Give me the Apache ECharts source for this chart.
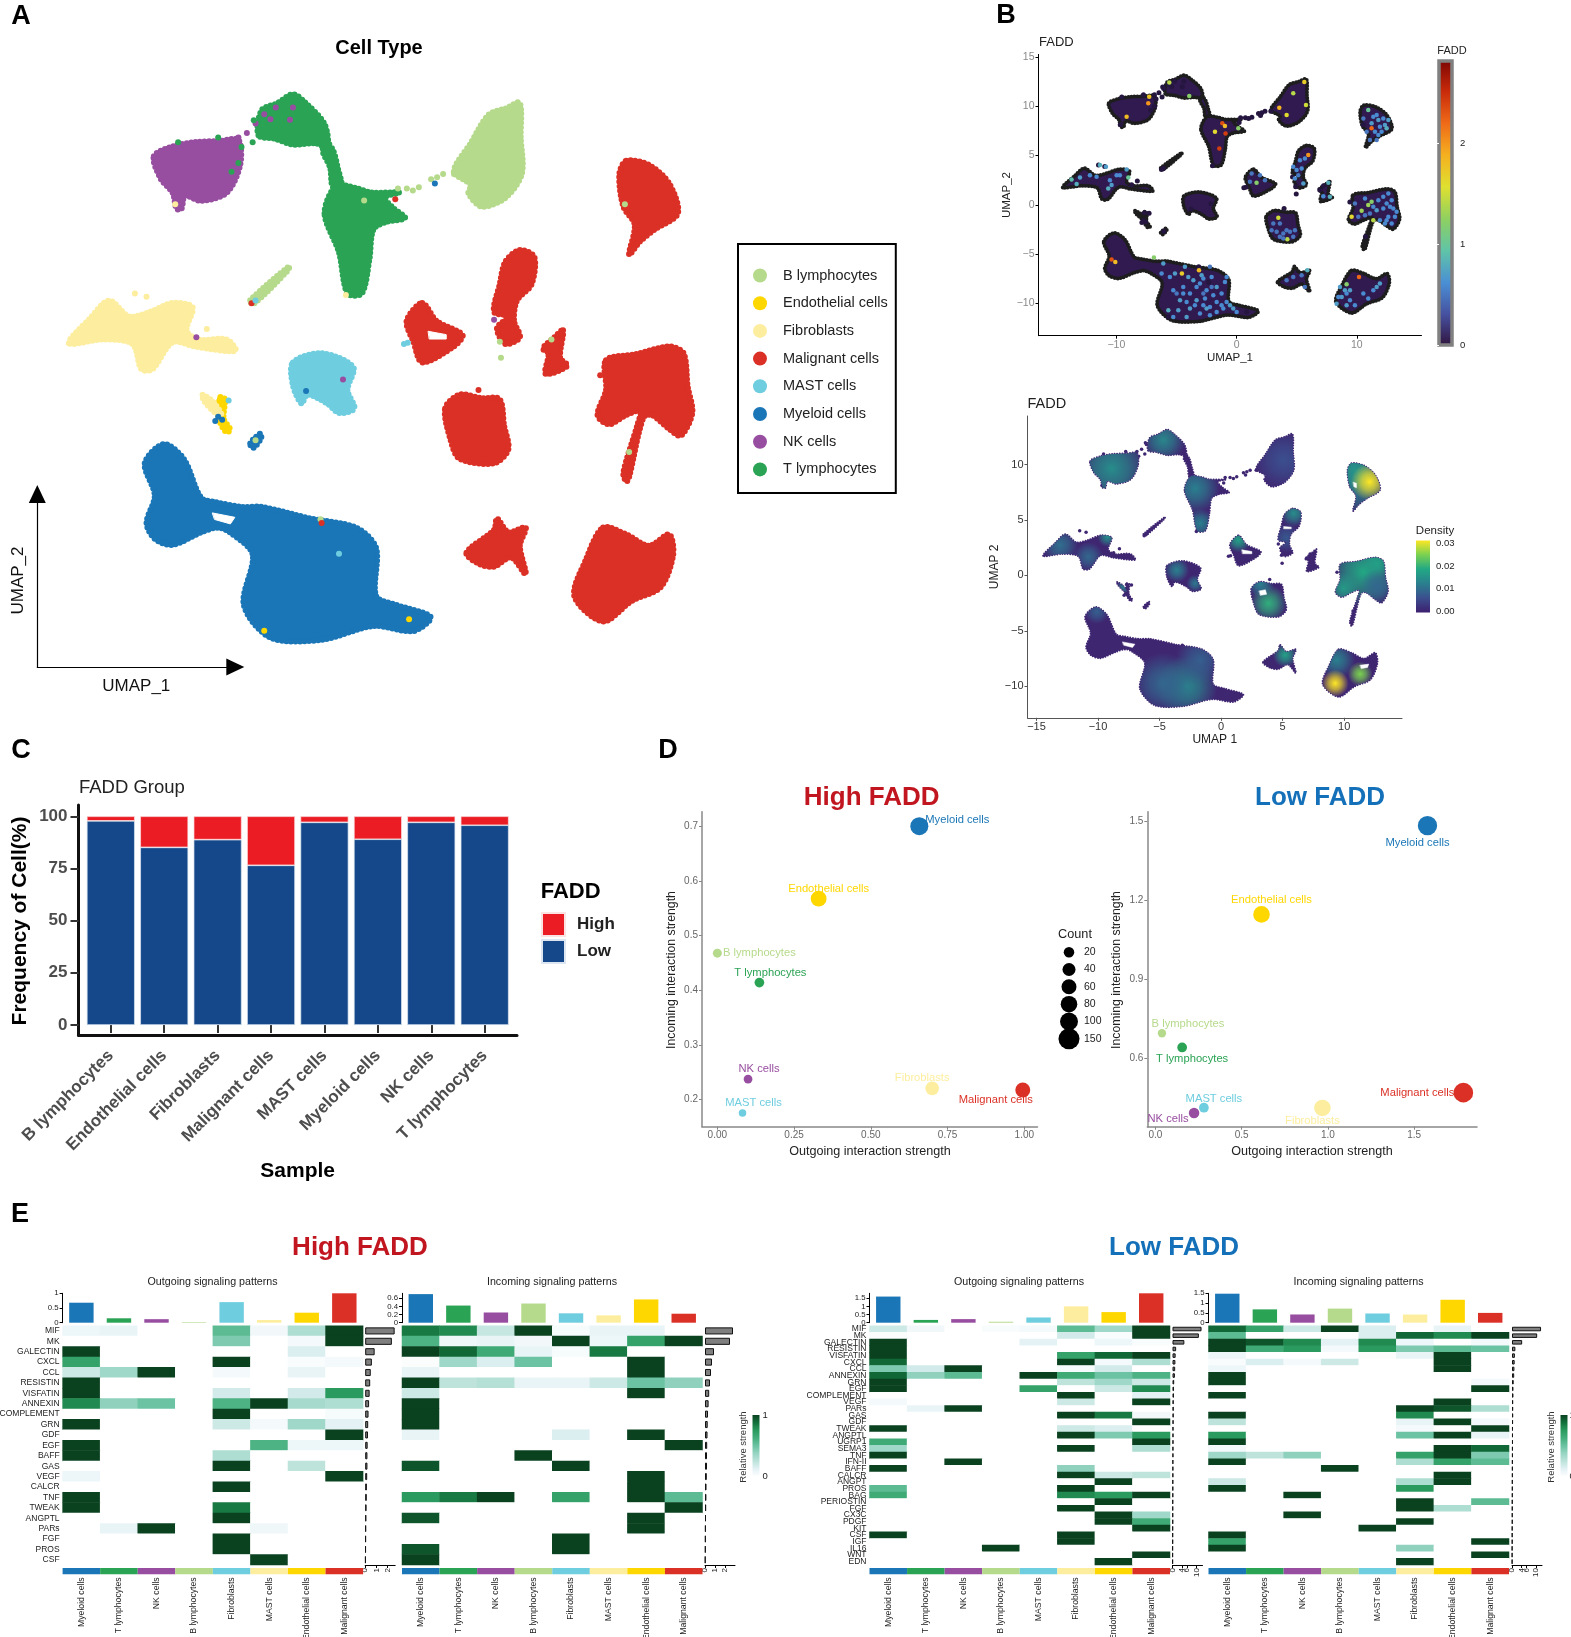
<!DOCTYPE html>
<html>
<head>
<meta charset="utf-8">
<title>FADD single cell figure</title>
<script src="https://cdn.jsdelivr.net/npm/echarts@6/dist/echarts.min.js"></script>
<style>html,body{margin:0;padding:0;background:#fff}#main{width:1571px;height:1637px}</style>
</head>
<body>
<div id="main"></div>
<script>
// cell type colours
var cellColors = {
	'B lymphocytes': '#b6da8b', 'Endothelial cells': '#ffd700', 'Fibroblasts': '#fdee9f', 'Malignant cells': '#db3026',
	'MAST cells': '#6ecddf', 'Myeloid cells': '#1a76b6', 'NK cells': '#984ea0', 'T lymphocytes': '#2ba355'
};
var legendCells = ['B lymphocytes', 'Endothelial cells', 'Fibroblasts', 'Malignant cells', 'MAST cells', 'Myeloid cells', 'NK cells', 'T lymphocytes'];

// UMAP outlines, in UMAP units
var nkBlob = [[-10.64,10.3],[-9.8,10.75],[-8.78,10.95],[-7.67,11.0],[-6.84,11.05],[-6.76,9.9],[-7.36,8.64],[-8.52,8.26],[-9.24,8.5],[-9.4,7.9],[-9.62,7.9],[-9.8,8.64],[-10.33,9.27]];
var tArchBlob = [[-5.94,11.26],[-5.8,12.4],[-5.09,12.73],[-4.39,13.14],[-3.88,12.8],[-2.97,11.78],[-2.84,10.73],[-3.4,10.9],[-4.39,10.84],[-5.2,11.1]];
var tBridgeBlob = [[-2.9,10.99],[-2.57,10.54],[-2.38,9.79],[-2.2,8.9],[-2.6,8.9],[-2.72,9.79],[-3.05,10.54]];
var tMainBlob = [[-2.97,7.69],[-2.45,8.95],[-1.55,8.85],[-0.89,8.65],[0.39,8.64],[-0.26,8.43],[0.1,7.95],[0.65,7.48],[-0.2,7.3],[-0.77,6.96],[-0.95,5.6],[-1.29,4.03],[-1.94,4.03],[-2.32,5.91]];
var bMainBlob = [[2.84,9.6],[3.6,10.9],[4.4,12.2],[5.2,12.5],[5.8,12.75],[5.85,11.15],[5.9,9.5],[5.16,8.4],[4.1,8.0],[3.5,8.6],[3.6,9.0]];
var bLineBlob = [[-6.31,3.72],[-4.55,5.28],[-4.63,5.07],[-6.17,3.54]];
var mal1Blob = [[10.59,10.1],[11.62,9.9],[12.52,9.06],[12.91,7.69],[11.88,6.96],[11.2,6.4],[10.72,5.81],[10.97,7.17],[10.46,8.0],[10.28,9.48]];
var mal2Blob = [[5.81,6.02],[6.46,5.7],[6.33,4.44],[5.68,3.71],[5.55,2.77],[5.81,2.03],[5.16,1.72],[4.78,2.45],[5.29,2.98],[4.65,3.19],[4.9,4.44],[5.16,5.49]];
var mal3Blob = [[1.42,3.6],[2.07,2.77],[3.23,2.14],[2.84,1.61],[1.42,0.88],[1.03,1.82],[0.72,2.77]];
var mal4Blob = [[7.75,2.35],[7.62,1.09],[7.95,0.73],[6.97,0.36],[7.1,1.3],[6.84,1.51],[7.36,2.03]];
var mal5Blob = [[9.68,0.98],[11.0,1.25],[12.52,1.61],[13.17,1.3],[13.35,-0.2],[13.56,-1.43],[13.04,-2.47],[12.52,-2.16],[11.75,-1.53],[11.36,-1.64],[10.72,-4.36],[10.59,-4.57],[10.46,-4.15],[11.1,-1.95],[11.23,-1.32],[10.59,-1.53],[9.81,-1.95],[9.3,-1.53],[9.68,-0.38]];
var mal6Blob = [[2.45,-1.22],[3.1,-0.59],[4.1,-0.75],[4.9,-0.8],[5.1,-2.0],[5.29,-3.1],[4.65,-3.73],[3.1,-3.52],[2.7,-2.68]];
var mal7Blob = [[3.41,-7.82],[4.65,-6.77],[4.78,-6.25],[5.29,-6.88],[6.07,-6.67],[5.81,-7.5],[6.07,-8.8],[5.42,-8.03],[4.65,-8.45],[4.0,-8.34]];
var mal8Blob = [[9.55,-6.67],[10.59,-6.98],[11.62,-7.5],[12.52,-6.98],[12.7,-7.92],[12.14,-9.39],[10.84,-10.02],[9.55,-10.96],[8.26,-9.81],[8.78,-8.13]];
var fibroBlob = [[-14.46,1.76],[-13.5,2.9],[-12.65,3.71],[-11.75,2.98],[-10.8,3.2],[-9.8,3.6],[-8.9,3.4],[-9.17,2.35],[-8.65,1.93],[-7.36,1.93],[-6.97,1.4],[-8.78,1.6],[-9.8,1.8],[-10.7,0.57],[-11.2,0.57],[-11.6,1.72],[-12.9,1.93]];
var mastBlob = [[-4.39,0.88],[-3.1,1.3],[-1.68,0.67],[-1.94,-0.38],[-1.63,-1.22],[-2.32,-1.43],[-2.84,-1.0],[-3.74,-0.59],[-4.0,-1.0],[-4.39,-0.17]];
var smallFibroBlob = [[-8.45,-0.6],[-8.0,-0.9],[-7.6,-1.5],[-7.9,-1.4],[-8.4,-0.85]];
var smallEndoBlob = [[-7.65,-0.7],[-7.45,-0.8],[-7.5,-1.7],[-7.2,-2.2],[-7.4,-2.3],[-7.75,-1.6]];
var smallMyeloidBlob = [[-6.31,-2.82],[-5.85,-2.37],[-5.82,-2.58],[-6.17,-3.03]];
var myeloidBlob = [[-11.05,-3.73],[-10.2,-2.85],[-9.3,-3.52],[-8.52,-5.3],[-7.87,-5.5],[-6.7,-5.72],[-5.8,-5.72],[-3.6,-6.25],[-1.55,-6.67],[-0.65,-7.6],[-0.65,-9.8],[0.26,-10.2],[1.8,-10.75],[1.03,-11.4],[-0.77,-11.17],[-3.1,-11.8],[-5.4,-11.7],[-6.6,-10.2],[-6.2,-7.9],[-7.2,-6.9],[-7.75,-6.67],[-8.5,-6.88],[-9.8,-7.46],[-10.59,-7.19],[-10.97,-6.46],[-10.6,-5.2]];
var holeBlobs = [
	[[-8.0,-6.0],[-7.0,-6.2],[-7.2,-6.5],[-7.9,-6.3]],
	[[1.7,2.3],[2.5,2.15],[2.5,1.95],[1.75,1.95]],
	[[3.1,-1.4],[3.6,-1.3],[3.7,-1.7],[3.2,-1.8]],
	[[5.1,4.4],[5.7,4.35],[5.7,4.2],[5.1,4.2]],
	[[11.3,-8.1],[12,-8.0],[11.9,-8.3],[11.4,-8.4]],
	[[10.75,8.4],[11.0,8.3],[11.0,7.9],[10.8,8.0]]
];
var umapBlobs = [
	{ cell: 'Myeloid cells', pts: myeloidBlob }, { cell: 'Myeloid cells', pts: smallMyeloidBlob },
	{ cell: 'NK cells', pts: nkBlob },
	{ cell: 'T lymphocytes', pts: tArchBlob }, { cell: 'T lymphocytes', pts: tBridgeBlob }, { cell: 'T lymphocytes', pts: tMainBlob },
	{ cell: 'B lymphocytes', pts: bMainBlob }, { cell: 'B lymphocytes', pts: bLineBlob },
	{ cell: 'Malignant cells', pts: mal1Blob }, { cell: 'Malignant cells', pts: mal2Blob }, { cell: 'Malignant cells', pts: mal3Blob },
	{ cell: 'Malignant cells', pts: mal4Blob }, { cell: 'Malignant cells', pts: mal5Blob }, { cell: 'Malignant cells', pts: mal6Blob },
	{ cell: 'Malignant cells', pts: mal7Blob }, { cell: 'Malignant cells', pts: mal8Blob },
	{ cell: 'Fibroblasts', pts: fibroBlob }, { cell: 'Fibroblasts', pts: smallFibroBlob },
	{ cell: 'Endothelial cells', pts: smallEndoBlob },
	{ cell: 'MAST cells', pts: mastBlob }
];
// single cells away from the main clouds
var strayDots = {
	'NK cells': [[-6.84,11.16],[-6.46,11.37],[-6.07,11.8],[-5.68,12.22],[-5.16,12.53],[-4.39,12.53],[-4.52,11.97],[-5.4,12.0],[-8.73,2.03],[-2.14,0.1],[4.65,2.83]],
	'T lymphocytes': [[-7.75,11.16],[-9.55,10.94],[-6.15,11.95],[-6.2,10.94],[-6.7,10.73],[-6.84,10.0],[-7.15,9.6]],
	'B lymphocytes': [[0.33,8.83],[0.73,8.83],[1.0,8.74],[1.27,8.89],[1.82,9.25],[2.09,9.34],[2.36,9.49],[2.85,9.49],[-1.19,8.28],[4.91,1.82],[4.96,1.09],[10.72,-3.21],[-3.15,-6.29],[10.53,8.11],[7.23,1.93],[-6.07,-2.68]],
	'Myeloid cells': [[-3.8,-0.42],[-7.75,-1.6],[-7.57,-1.74],[-7.88,-1.8],[1.99,9.06]],
	'Endothelial cells': [[-5.68,-11.38],[-7.67,-0.8],[0.83,-10.86]],
	'Malignant cells': [[0.21,8.34],[-6.25,3.58],[-3.1,-6.46],[3.95,-0.38],[9.42,0.29],[6.92,1.51]],
	'MAST cells': [[0.77,1.78],[0.6,1.72],[-7.28,-0.86],[-6.07,3.71],[-2.32,-7.86]],
	'Fibroblasts': [[-11.49,4.03],[-10.97,3.88],[-8.26,2.41],[-9.68,8.11],[-2.01,3.96]]
};

// FADD expressing cells: x, y, expression
var faddDots = [
	[-7.27,10.96,1.75],[-7.35,10.29,2.0],[-9.15,8.93,1.8],[-3.94,11.03,1.2],[-5.6,12.39,1.4],[-1.19,8.26,2.3],[-0.92,7.24,2.4],[-1.44,5.72,2.4],[-0.97,7.99,1.8],[-1.8,7.41,1.6],[0.14,7.75,1.2],
	[3.55,9.85,1.85],[4.71,11.3,1.4],[5.63,12.45,1.7],[4.16,9.1,1.6],[5.77,10.12,1.5],[-10.4,-5.55,2.3],[-10.09,-5.79,1.8],[-6.88,-5.35,1.2],[-4.55,-6.97,1.7],[-3.13,-6.63,1.8],
	[10.18,-7.31,2.2],[5.96,5.04,2.0],[10.95,-0.03,1.3],[9.57,-1.22,1.6],[10.4,-0.61,1.3],[11.23,0.3,1.2],[11.37,-1.56,1.4],[3.47,-1.32,1.5],[4.22,-3.49,1.4],[1.66,2.23,1.2],[9.15,-8.05,1.2],[11.23,7.75,2.2],
	[-5.27,-8.66,0.6],[-4.71,-9.68,0.7],[-4.44,-8.32,0.6],[-3.88,-9.0,0.6],[-3.6,-7.65,0.7],[-3.05,-7.99,0.6],[-2.91,-7.14,0.7],[-2.5,-8.66,0.6],[-2.08,-7.31,0.6],[-1.66,-8.32,0.7],[-1.25,-9.0,0.6],[-0.83,-7.31,0.6],[-3.33,-9.68,0.7],[-2.77,-10.19,0.6],[-2.22,-10.36,0.6],[-1.66,-9.85,0.6],[-1.11,-10.52,0.6],[-0.55,-10.19,0.7],[0,-10.86,0.6],[-5.68,-10.69,0.8],[-4.85,-10.69,0.7],[-3.88,-10.52,0.7],[-3.05,-11.03,0.6],[-2.22,-11.2,0.6],[-4.16,-11.37,0.7],[-0.83,-9.85,0.6],[-5.13,-6.97,0.7],[-6.1,-5.96,0.7],[-5.55,-7.31,0.6],
	[-4.16,-9.85,0.6],[-3.47,-10.19,0.6],[-2.63,-9.51,0.6],[-1.94,-9.17,0.6],[-2.5,-10.52,0.7],[-1.66,-10.86,0.6],[-1.25,-10.19,0.6],[-2.77,-9.0,0.5],[-4.02,-7.31,0.7],[-4.44,-9.0,0.6],[-4.99,-9.0,0.5],[-6.24,-6.97,0.6],[-4.3,-6.29,0.7],[-2.77,-7.48,0.6],[-2.22,-6.29,0.5],[-0.97,-7.82,0.6],[-0.28,-10.52,0.7],[-5.27,-11.37,0.6],[-2.08,-8.32,0.5],[-3.33,-8.32,0.6],
	[11.37,8.93,0.6],[11.79,8.6,0.7],[12.2,8.76,0.6],[11.23,8.26,0.7],[11.92,7.92,0.6],[12.34,8.09,0.7],[10.82,7.41,0.5],[11.51,7.41,0.6],[11.09,6.56,0.5],[11.79,7.07,0.6],[10.54,8.76,0.5],[12.48,7.75,0.8],[10.95,9.61,1.0],[11.65,9.1,0.6],[12.06,7.41,0.6],[11.65,6.56,0.5],[12.62,8.6,0.7],
	[12.62,1.15,0.6],[12.9,0.47,0.6],[13.03,-0.37,0.6],[12.62,-1.22,0.6],[13.17,-1.22,0.6],[12.2,-0.37,0.6],[11.65,-0.54,0.7],[11.92,-1.56,0.6],[11.09,-0.88,0.5],[9.84,0.14,0.5],[10.12,-1.22,0.5],[10.68,0.64,0.6],[12.48,0.14,0.6],[12.34,-1.9,0.6],[12.2,0.81,0.6],[12.76,-0.2,0.6],[13.31,-0.71,0.6],[11.79,0.47,0.6],[11.37,-0.2,0.6],[10.68,-1.05,0.5],[12.48,-1.56,0.6],[12.9,-1.9,0.6],
	[3.33,-2.74,0.5],[3.88,-2.91,0.5],[4.44,-2.74,0.5],[4.85,-2.57,0.5],[3.05,-1.9,0.5],[3.88,-3.42,0.5],[4.71,-3.25,0.5],[3.6,-1.9,0.5],[2.91,-2.57,0.5],[4.16,-2.57,0.5],[3.6,-3.25,0.5],
	[4.99,3.52,0.6],[5.41,3.69,0.6],[4.85,2.67,0.6],[5.55,2.17,0.7],[5.68,4.7,0.6],[5.27,4.53,0.6],[4.71,3.86,0.6],[5.13,3.01,0.5],
	[7.63,2.23,0.8],[7.76,0.81,0.8],[7.21,0.88,0.6],[1.25,3.18,0.5],[1.94,3.01,0.5],[1.11,2.33,0.5],[2.36,2.5,0.5],
	[4.71,-7.31,0.5],[5.41,-7.14,0.5],[5.68,-8.32,0.5],[4.16,-7.65,0.5],[5.88,-6.63,0.8],
	[9.01,-8.66,0.7],[9.43,-8.66,0.7],[8.74,-9.34,0.7],[9.43,-9.68,0.6],[9.84,-10.19,0.6],[10.54,-9.0,0.6],[8.32,-10.02,0.7],[9.15,-10.19,0.7],[11.65,-8.32,0.7],[11.92,-7.99,0.7],[10.95,-9.51,0.6],[8.6,-8.32,0.7],[8.46,-9.34,0.6],[9.15,-9.0,0.6],[11.37,-8.66,0.6],
	[-13.73,2.57,0.9],[-13.31,2.1,0.8],[-10.68,1.66,0.8],[-10.4,2.0,0.7],[-9.71,3.01,0.6],[-9.15,3.59,0.7],[-9.01,2.77,1.0],[-11.37,4.03,0.8],[-10.87,3.86,0.7],[-13.03,2.77,0.7],[-12.2,3.01,0.6],[-9.98,3.01,0.6],[-10.54,2.5,0.6],[-11.65,2.84,0.6]
];

// density hot spots: outline, x, y, radius, density
var densitySpots = [
	[nkBlob,-8.89,9.64,3,0.014], [tArchBlob,-4.69,12.2,1.8,0.013], [tMainBlob,-2.11,7.84,2,0.012], [tMainBlob,-1.7,4.7,1.2,0.012], [bMainBlob,5.07,10.4,2.5,0.006],
	[mal1Blob,11,8.5,3,0.013], [mal1Blob,10.9,9.5,1.5,0.015], [mal1Blob,12.06,8.44,1.5,0.03],
	[mal2Blob,5.9,5.6,1.1,0.014], [mal2Blob,5.3,3.4,1.2,0.007], [mal3Blob,1.41,3.18,1,0.017],
	[mal5Blob,11.57,0.33,3,0.018], [mal5Blob,9.95,-1.17,1.3,0.016], [mal5Blob,12.66,1.08,1.2,0.017], [mal5Blob,12.66,-1.0,1.4,0.009],
	[mal6Blob,3.85,-2.52,1.5,0.019], [mal6Blob,3.2,-0.8,1.1,0.012], [mal7Blob,5.2,-7.18,1,0.017],
	[mal8Blob,9.4,-7.63,1.5,0.012], [mal8Blob,9.27,-9.73,1.1,0.03], [mal8Blob,11.3,-8.89,1,0.024],
	[fibroBlob,-13.09,2.73,1.5,0.01], [fibroBlob,-9.24,3.48,0.8,0.014], [fibroBlob,-10.79,1.68,1.2,0.009],
	[mastBlob,-3.6,0.48,1,0.012], [mastBlob,-2.11,-0.72,0.7,0.011], [smallFibroBlob,-7.9,-1,0.6,0.012],
	[myeloidBlob,-2.79,-10.03,2.5,0.013], [myeloidBlob,-4.69,-9.73,2.5,0.009], [myeloidBlob,-1.71,-7.63,2,0.008], [myeloidBlob,-10.1,-3.27,1,0.008]
];

// panel C
var sampleNames = ['B lymphocytes', 'Endothelial cells', 'Fibroblasts', 'Malignant cells', 'MAST cells', 'Myeloid cells', 'NK cells', 'T lymphocytes'];
var lowFreq = [97.8, 85.1, 88.8, 76.5, 97.1, 89, 97.1, 95.7];
var highFreq = [2.2, 14.9, 11.2, 23.5, 2.9, 11, 2.9, 4.3];

// panel D
var scatterCells = ['Myeloid cells', 'Endothelial cells', 'B lymphocytes', 'T lymphocytes', 'NK cells', 'MAST cells', 'Fibroblasts', 'Malignant cells'];
var highOutgoing = [0.658, 0.33, 0, 0.137, 0.1, 0.082, 0.70, 0.995];
var highIncoming = [0.701, 0.568, 0.468, 0.414, 0.237, 0.175, 0.22, 0.217];
var highCounts = [100, 70, 11, 15, 10, 5, 45, 60];
var lowOutgoing = [1.577, 0.615, 0.038, 0.155, 0.224, 0.281, 0.968, 1.785];
var lowIncoming = [1.482, 1.146, 0.696, 0.642, 0.394, 0.414, 0.413, 0.471];
var lowCounts = [120, 80, 8, 15, 20, 15, 80, 125];
var highLabelOffset = [[38,-6],[10,-10],[42,0],[11,-10],[11,-10],[11,-10],[-10,-10],[-27,10]];
var lowLabelOffset = [[-10,17],[10,-14],[26,-9],[10,11],[-26,6],[10,-9],[-10,13],[-46,0]];
var countLevels = [20, 40, 60, 80, 100, 150];

// panel E, columns as drawn
var highCols = ['Myeloid cells', 'T lymphocytes', 'NK cells', 'B lymphocytes', 'Fibroblasts', 'MAST cells', 'Endothelial cells', 'Malignant cells'];
var highColColors = ['#1a76b6', '#2ba355', '#984ea0', '#b6da8b', '#6ecddf', '#fdee9f', '#ffd700', '#db3026'];
var lowCols = ['Myeloid cells', 'T lymphocytes', 'NK cells', 'B lymphocytes', 'MAST cells', 'Fibroblasts', 'Endothelial cells', 'Malignant cells'];
var lowColColors = ['#1a76b6', '#2ba355', '#984ea0', '#b6da8b', '#6ecddf', '#fdee9f', '#ffd700', '#db3026'];

var highOutRows = ['MIF','MK','GALECTIN','CXCL','CCL','RESISTIN','VISFATIN','ANNEXIN','COMPLEMENT','GRN','GDF','EGF','BAFF','GAS','VEGF','CALCR','TNF','TWEAK','ANGPTL','PARs','FGF','PROS','CSF'];
var highOutMatrix = [
	[.08,.1,0,0,.55,.06,.3,1],[0,0,0,0,.45,0,.05,1],[1,0,0,0,0,0,.15,0],[.7,0,0,0,1,0,.03,.05],[.2,.35,1,0,.05,0,.1,0],[1,0,0,0,0,0,0,0],
	[1,0,0,0,.18,0,.18,.75],[.8,.4,.5,0,.6,1,.33,.3],[0,0,0,0,1,0,0,.04],[1,0,0,0,.2,.05,.35,.12],[0,0,0,0,0,0,0,1],[1,0,0,0,0,.6,.08,.08],
	[1,0,0,0,.3,0,0,0],[0,0,0,0,1,0,.25,0],[.08,0,0,0,0,0,0,1],[0,0,0,0,1,0,0,0],[1,0,0,0,0,0,0,0],[1,0,0,0,.85,0,0,0],
	[0,0,0,0,1,0,0,0],[0,.1,1,0,0,.07,0,0],[0,0,0,0,1,0,0,0],[0,0,0,0,1,0,0,0],[0,0,0,0,0,1,0,0]
];
var highInMatrix = [
	[.85,.8,.22,1,.04,.1,.1,0],[.6,.08,.1,.06,1,.08,.7,1],[1,.9,.65,.1,.04,.85,0,0],[.02,.35,.15,.5,0,0,1,0],[.1,0,0,0,0,0,1,0],[1,.25,.28,.1,.1,.2,.5,.4],
	[.2,0,0,0,0,0,1,0],[1,0,0,0,0,0,0,0],[1,0,0,0,0,0,0,0],[1,0,0,0,0,0,0,0],[.1,0,0,0,.15,0,1,0],[0,0,0,0,0,0,0,1],
	[0,0,0,1,0,0,0,0],[.95,0,0,0,1,0,0,0],[0,0,0,0,0,0,1,0],[0,0,0,0,0,0,1,0],[.75,.85,1,0,.7,0,1,.55],[0,0,0,0,0,0,0,1],
	[.95,0,0,0,0,0,1,0],[0,0,0,0,0,0,1,0],[0,0,0,0,1,0,0,0],[.95,0,0,0,1,0,0,0],[1,0,0,0,0,0,0,0]
];
var highOutTop = [.68, .15, .12, .02, .7, .09, .34, 1];
var highInTop = [.7, .42, .25, .47, .23, .18, .57, .22];
var highOutSide = [2.65,2.4,.85,.6,.5,.45,.4,.35,.3,.27,.25,.22,.2,.2,.18,.15,.14,.12,.1,.08,.07,.06,.04];
var highInSide = [2.8,2.5,.9,.7,.6,.5,.42,.36,.3,.27,.25,.22,.2,.2,.18,.15,.14,.12,.1,.08,.07,.06,.04];

var lowRows = ['MIF','MK','GALECTIN','RESISTIN','VISFATIN','CXCL','CCL','ANNEXIN','GRN','EGF','COMPLEMENT','VEGF','PARs','GAS','GDF','TWEAK','ANGPTL','UGRP1','SEMA3','TNF','IFN-II','BAFF','CALCR','ANGPT','PROS','BAG','PERIOSTIN','FGF','CX3C','PDGF','KIT','CSF','IGF','IL16','WNT','EDN'];
var lowOutMatrix = [
	[.2,.06,0,.03,.05,.55,.35,1],[.02,0,0,0,0,.18,.03,1],[1,0,0,0,.12,0,.08,.03],[1,0,0,0,0,0,0,0],[1,0,0,0,0,.7,.9,1],[.9,0,0,0,0,1,.05,.3],
	[.45,.18,1,0,0,.04,.18,0],[.9,.4,.55,0,1,.65,.5,.6],[1,0,0,0,0,.25,.35,.2],[1,0,0,0,.7,0,.2,.8],[0,0,0,0,0,1,0,.12],[.05,0,0,0,0,.2,0,1],
	[0,.1,1,0,0,0,0,0],[0,0,0,0,0,1,.85,.06],[0,0,0,0,0,0,0,1],[1,0,0,0,0,.2,.15,0],[0,0,0,0,0,1,.45,.75],[.65,0,0,0,0,0,0,1],
	[.35,0,0,0,0,1,0,.3],[1,0,0,0,0,0,0,0],[0,0,1,0,0,0,0,0],[1,0,0,0,0,.4,0,0],[0,0,0,0,0,1,.2,.25],[0,0,0,0,0,0,1,0],
	[.55,0,0,0,0,1,0,0],[.65,0,0,0,0,.8,.75,1],[0,0,0,0,0,0,1,0],[0,0,0,0,0,1,0,0],[0,0,0,0,0,0,1,.35],[0,0,0,0,0,0,1,.65],
	[0,0,0,0,0,0,0,1],[1,0,0,0,0,1,0,0],[0,0,0,0,0,1,0,0],[0,0,0,1,0,0,0,0],[0,0,0,0,0,0,0,1],[0,0,0,0,0,0,1,0]
];
var lowInMatrix = [
	[.9,.7,.2,1,.15,0,.1,0],[.55,0,0,0,.15,.9,.8,1],[1,.95,.8,.12,.8,.08,0,.05],[1,.65,.75,.05,.75,.45,.55,.5],[.08,0,0,0,.02,.1,1,0],[.03,.15,.05,.2,0,0,1,0],
	[.08,0,0,0,0,0,1,0],[1,0,0,0,0,0,0,0],[1,0,0,0,0,0,0,.05],[0,0,0,0,0,0,0,1],[1,0,0,0,0,0,0,0],[0,0,0,0,0,0,1,0],
	[0,0,0,0,0,1,.95,.3],[1,0,0,0,0,.8,0,0],[.25,0,0,0,0,.1,1,.05],[0,0,0,0,0,.05,0,1],[.75,0,0,0,0,.5,1,.1],[1,0,0,0,0,0,0,0],
	[.05,0,0,0,0,0,1,.9],[.35,.25,.4,0,0,.7,1,.45],[1,0,0,0,0,.3,.7,.55],[0,0,0,1,0,0,0,0],[0,0,0,0,0,0,1,0],[.2,0,0,0,0,.3,1,0],
	[1,0,0,0,0,.75,0,0],[0,0,1,0,0,0,0,0],[0,0,0,0,0,1,0,.55],[0,0,0,0,0,1,.3,0],[0,0,1,0,0,0,0,0],[0,0,0,0,0,1,0,0],
	[0,0,0,0,1,0,0,0],[1,0,0,0,0,0,0,0],[.7,0,0,0,0,0,0,1],[1,0,0,0,0,.4,0,0],[0,0,0,0,0,0,0,1],[0,0,0,0,0,1,0,0]
];
var lowOutTop = [1.6, .17, .22, .06, .32, 1.0, .65, 1.8];
var lowInTop = [1.48, .68, .42, .72, .47, .42, 1.17, .5];
var lowOutSide = [12,10.9,4.9,1.5,1.3,1.2,1.1,1,.7,.6,.6,.5,.5,.5,.45,.4,.4,.4,.35,.35,.3,.3,.3,.25,.25,.25,.2,.2,.2,.2,.15,.15,.15,.1,.1,.1];
var lowInSide = [12,10.4,4.2,1.4,1.2,1.1,1,.9,.7,.6,.6,.5,.5,.5,.45,.4,.4,.4,.35,.35,.3,.3,.3,.25,.25,.25,.2,.2,.2,.2,.15,.15,.15,.1,.1,.1];

var SANS = '"Liberation Sans", Arial, sans-serif';
var exprRamp = ['#30123b', '#46509f', '#4a8fd4', '#5fc4a8', '#8fd060', '#dfe030', '#f5b020', '#ef6a18', '#c82a0a', '#7a0403'];
var densityRamp = ['#3d1f6f', '#3b4f8e', '#2a7f8e', '#22a884', '#7ad151', '#fde725'];
var strengthRamp = ['#ffffff', '#e3f1f5', '#bde3db', '#98d5c3', '#6cc3a3', '#45ae7c', '#2a9a5e', '#13713b', '#0a4220'];

var grids = [], xAxes = [], yAxes = [], series = [], texts = [];

function addPanel(l, t, w, h, xAxis, yAxis) {
	var i = grids.length;
	grids.push({ left: l, top: t, width: w, height: h, outerBoundsMode: 'none' });
	xAxis.gridIndex = i;
	yAxis.gridIndex = i;
	xAxes.push(xAxis);
	yAxes.push(yAxis);
	return i;
}
function label(text, x, y, font, color, align, rot) {
	texts.push({
		type: 'text', x: x, y: y + 1, rotation: rot || 0, silent: true, z: 50,
		style: { text: text, font: font, fill: color || '#000', textAlign: align || 'center', textVerticalAlign: 'middle' }
	});
}
function minus(v) { return String(v).replace('-', '\u2212'); }

function numAxis(min, max, ticks, color, font, fmt, lineColor, lineW) {
	return {
		type: 'value', min: min, max: max, splitLine: { show: false },
		axisLine: { show: true, onZero: false, lineStyle: { color: lineColor || '#000', width: lineW || 1 } },
		axisTick: { show: true, customValues: ticks, length: 3, lineStyle: { color: lineColor || '#000' } },
		axisLabel: { show: true, customValues: ticks, color: color, fontFamily: font.family, fontSize: font.size, margin: 4, hideOverlap: false, showMinLabel: true, showMaxLabel: true, formatter: fmt || minus }
	};
}

// polygons of the UMAP, one custom series per call. bead: dotted outline so the edge looks like single cells
function blobSeries(name, panel, blobs, fill, stroke, lw, z, smooth, bead) {
	return {
		type: 'custom', name: name, xAxisIndex: panel, yAxisIndex: panel, z: z || 2, silent: true,
		itemStyle: { color: fill },
		data: blobs.map(function(b, i) { return [b[0][0], b[0][1], i]; }),
		encode: { x: 0, y: 1 },
		renderItem: function(params, api) {
			var pts = blobs[api.value(2)].map(function(p) { return api.coord(p); });
			var st = { fill: fill, stroke: stroke, lineWidth: lw, lineJoin: 'round', lineCap: 'round' };
			if (bead) st.lineDash = [0, bead];
			return { type: 'polygon', shape: { points: pts, smooth: smooth || 0 }, style: st };
		}
	};
}

// ---------- A
var panelA = addPanel(34.6, 53.5, 712, 634.5, { type: 'value', min: -16, max: 16, show: false }, { type: 'value', min: -14, max: 15, show: false });
legendCells.forEach(function(c) {
	var blobs = umapBlobs.filter(function(b) { return b.cell == c; }).map(function(b) { return b.pts; });
	series.push(blobSeries(c, panelA, blobs, cellColors[c], cellColors[c], 6, 2, 0.3, 4.5));
});
series.push(blobSeries('holes A', panelA, holeBlobs.slice(0, 2), '#fff', '#fff', 1, 3));
legendCells.forEach(function(c) {
	series.push({ type: 'scatter', name: c, xAxisIndex: panelA, yAxisIndex: panelA, symbolSize: 6, silent: true, z: 4, itemStyle: { color: cellColors[c], opacity: 1 }, data: strayDots[c] });
});
var arrows = addPanel(37.3, 494, 198, 173, {
	type: 'value', min: 0, max: 1, name: 'UMAP_1', nameLocation: 'middle', nameGap: 11, nameTextStyle: { fontFamily: SANS, fontSize: 17, color: '#111' },
	splitLine: { show: false }, axisTick: { show: false }, axisLabel: { show: false },
	axisLine: { show: true, symbol: ['none', 'triangle'], symbolSize: [17, 18], lineStyle: { color: '#000', width: 1.2 } }
}, {
	type: 'value', min: 0, max: 1, name: 'UMAP_2', nameLocation: 'middle', nameGap: 10, nameTextStyle: { fontFamily: SANS, fontSize: 17, color: '#111' },
	splitLine: { show: false }, axisTick: { show: false }, axisLabel: { show: false },
	axisLine: { show: true, symbol: ['none', 'triangle'], symbolSize: [17, 18], lineStyle: { color: '#000', width: 1.2 } }
});
label('A', 21, 16, 'bold 27px ' + SANS);
label('Cell Type', 379, 47, 'bold 20px ' + SANS);

// ---------- B top
var allBlobs = umapBlobs.map(function(b) { return b.pts; });
var allStrays = [];
legendCells.forEach(function(c) { allStrays = allStrays.concat(strayDots[c]); });
var font11 = { family: SANS, size: 10.5 };
var panelB1 = addPanel(1038.5, 54.4, 383, 281.3, numAxis(-16.48, 15.38, [-10, 0, 10], '#888', font11), numAxis(-13.27, 15.25, [-10, -5, 0, 5, 10, 15], '#888', font11));
xAxes[panelB1].name = 'UMAP_1'; xAxes[panelB1].nameLocation = 'middle'; xAxes[panelB1].nameGap = 15;
xAxes[panelB1].nameTextStyle = { fontFamily: SANS, fontSize: 11.5, color: '#222' };
yAxes[panelB1].name = 'UMAP_2'; yAxes[panelB1].nameLocation = 'middle'; yAxes[panelB1].nameGap = 21;
yAxes[panelB1].nameTextStyle = { fontFamily: SANS, fontSize: 11.5, color: '#222' };
series.push(blobSeries('FADD base', panelB1, allBlobs, '#301a50', '#1d1d1d', 4, 2, 0.3, 3));
series.push({ type: 'scatter', name: 'FADD bridge', xAxisIndex: panelB1, yAxisIndex: panelB1, symbolSize: 5, silent: true, z: 2, itemStyle: { color: '#251640', opacity: 1 }, data: allStrays });
series.push({
	type: 'scatter', name: 'FADD expression', xAxisIndex: panelB1, yAxisIndex: panelB1, symbolSize: 4.5, silent: true, z: 3,
	itemStyle: { opacity: 1, color: function(p) { return echarts.color.lerp(p.value[2] / 2.81, exprRamp); } },
	data: faddDots
});
label('B', 1006, 15, 'bold 27px ' + SANS);
label('FADD', 1039, 41.6, '13px ' + SANS, '#222', 'left');
label('FADD', 1452, 50, '11px ' + SANS, '#222');

// vertical colour bar with its ticks
function colorBar(l, t, w, h, min, max, ticks, ramp, opt) {
	var p = addPanel(l, t, w, h, { type: 'value', min: 0, max: 1, show: false }, {
		type: 'value', position: 'right', min: min, max: max, z: 10, splitLine: { show: false }, axisLine: { show: false },
		axisTick: { show: true, customValues: ticks, inside: true, length: opt.tick, lineStyle: { color: '#fff', width: 1 } },
		axisLabel: { show: true, customValues: ticks, margin: opt.margin, color: opt.color || '#222', fontFamily: SANS, fontSize: opt.size, formatter: opt.fmt }
	});
	var stops = ramp.map(function(c, i) { return { offset: i / (ramp.length - 1), color: c }; });
	series.push({
		type: 'custom', name: opt.name, xAxisIndex: p, yAxisIndex: p, silent: true, z: 2, data: [[0, min]], encode: { x: 0, y: 1 },
		renderItem: function(params, api) {
			var a = api.coord([0, max]), b = api.coord([1, min]);
			return {
				type: 'rect', shape: { x: a[0], y: a[1], width: b[0] - a[0], height: b[1] - a[1] },
				style: { fill: new echarts.graphic.LinearGradient(0, 1, 0, 0, stops), stroke: opt.border || null, lineWidth: opt.borderW || 0 }
			};
		}
	});
}
colorBar(1439, 61, 13, 284, 0, 2.82, [0, 1, 2], exprRamp, { name: 'FADD scale', tick: 3, margin: 8, size: 9.5, border: '#808080', borderW: 3.5 });

// ---------- B bottom
var font12 = { family: SANS, size: 11 };
var panelB2 = addPanel(1027.5, 416, 374.5, 301.8, numAxis(-15.73, 14.7, [-15, -10, -5, 0, 5, 10], '#333', font12, null, '#555'), numAxis(-12.84, 14.37, [-10, -5, 0, 5, 10], '#333', font12, null, '#555'));
xAxes[panelB2].name = 'UMAP 1'; xAxes[panelB2].nameLocation = 'middle'; xAxes[panelB2].nameGap = 15;
xAxes[panelB2].nameTextStyle = { fontFamily: SANS, fontSize: 12, color: '#222' };
yAxes[panelB2].name = 'UMAP 2'; yAxes[panelB2].nameLocation = 'middle'; yAxes[panelB2].nameGap = 16;
yAxes[panelB2].nameTextStyle = { fontFamily: SANS, fontSize: 12, color: '#222' };
series.push(blobSeries('Density base', panelB2, allBlobs, '#3f2671', '#3f2671', 2, 2, 0.3, 2.6));
series.push({ type: 'scatter', name: 'Density bridge', xAxisIndex: panelB2, yAxisIndex: panelB2, symbolSize: 3.5, silent: true, z: 2, itemStyle: { color: '#3f2671', opacity: 1 }, data: allStrays });
series.push({
	type: 'custom', name: 'Density', xAxisIndex: panelB2, yAxisIndex: panelB2, silent: true, z: 3,
	data: densitySpots.map(function(s, i) { return [s[1], s[2], i]; }), encode: { x: 0, y: 1 },
	renderItem: function(params, api) {
		var s = densitySpots[api.value(2)];
		var c = api.coord([s[1], s[2]]);
		var col = echarts.color.lerp(s[4] / 0.03, densityRamp);
		var grad = new echarts.graphic.RadialGradient(c[0], c[1], api.size([s[3], 0])[0], [
			{ offset: 0, color: echarts.color.modifyAlpha(col, 1) },
			{ offset: 0.45, color: echarts.color.modifyAlpha(col, 0.65) },
			{ offset: 1, color: echarts.color.modifyAlpha(col, 0) }
		], true);
		return { type: 'polygon', shape: { points: s[0].map(function(p) { return api.coord(p); }), smooth: 0.3 }, style: { fill: grad } };
	}
});
series.push(blobSeries('holes B', panelB2, holeBlobs, '#fff', '#fff', 0.5, 4));
label('FADD', 1027.5, 403, '14.5px ' + SANS, '#222', 'left');
label('Density', 1435, 529.6, '11.5px ' + SANS, '#222');
colorBar(1416, 540.4, 14, 72, -0.0005, 0.0315, [0, 0.01, 0.02, 0.03], densityRamp, { name: 'Density scale', tick: 2, margin: 6, size: 9.5, fmt: function(v) { return v.toFixed(2); } });

// ---------- C
var cLine = { color: '#111', width: 3 };
// axis line only, a little longer than the bars at both ends
addPanel(78.5, 805, 438.5, 230, {
	type: 'value', min: 0, max: 1, splitLine: { show: false }, axisTick: { show: false }, axisLabel: { show: false },
	axisLine: { show: true, lineStyle: cLine }
}, { type: 'value', min: 0, max: 1, show: false });
var panelC = addPanel(84.1, 805, 427.3, 230, {
	type: 'category', data: sampleNames, axisLine: { show: false },
	axisTick: { show: true, alignWithLabel: true, length: 8, lineStyle: { color: '#333', width: 2 } },
	axisLabel: { interval: 0, rotate: 45, margin: 18, color: '#4d4d4d', fontFamily: SANS, fontSize: 17, fontWeight: 'bold' }
}, {
	type: 'value', min: -4.8, max: 105.4, offset: 5.6, splitLine: { show: false },
	axisLine: { show: true, onZero: false, lineStyle: cLine },
	axisTick: { show: true, customValues: [0, 25, 50, 75, 100], length: 8, lineStyle: { color: '#333', width: 2 } },
	axisLabel: { customValues: [0, 25, 50, 75, 100], margin: 11, color: '#4d4d4d', fontFamily: SANS, fontSize: 17, fontWeight: 'bold' }
});
series.push({
	type: 'bar', name: 'Low', xAxisIndex: panelC, yAxisIndex: panelC, stack: 'freq', barWidth: 48, silent: true,
	itemStyle: { color: '#14488a', borderColor: '#dde6f0', borderWidth: 0.7 }, data: lowFreq
});
series.push({
	type: 'bar', name: 'High', xAxisIndex: panelC, yAxisIndex: panelC, stack: 'freq', barWidth: 48, silent: true,
	itemStyle: { color: '#ec1c24', borderColor: '#fbe3e3', borderWidth: 0.7 }, data: highFreq
});
label('C', 21, 750, 'bold 27px ' + SANS);
label('FADD Group', 79, 787, '18.5px ' + SANS, '#222', 'left');
label('Frequency of Cell(%)', 20.5, 920, 'bold 21px ' + SANS, '#000', 'center', Math.PI / 2);
label('Sample', 297.7, 1170, 'bold 21px ' + SANS);
label('FADD', 540.7, 890.7, 'bold 22px ' + SANS, '#000', 'left');

// ---------- D
function countSize(n) { return 4.5 + 1.35 * Math.sqrt(n); }
function interaction(l, w, xr, yr, xt, yt, xf, out, inc, counts, offs, name) {
	var f = { family: SANS, size: 10 };
	var p = addPanel(l, 811.7, w, 315, numAxis(xr[0], xr[1], xt, '#666', f, xf, '#888', 1.5), numAxis(yr[0], yr[1], yt, '#666', f, function(v) { return v.toFixed(1); }, '#888', 1.5));
	series.push({
		type: 'scatter', name: name, xAxisIndex: p, yAxisIndex: p, silent: true,
		data: scatterCells.map(function(c, i) {
			return {
				name: c, value: [out[i], inc[i], counts[i]], symbolSize: countSize(counts[i]), itemStyle: { color: cellColors[c], opacity: 1 },
				label: { show: true, position: 'inside', offset: offs[i], formatter: c, color: cellColors[c], fontFamily: SANS, fontSize: 11.2 }
			};
		})
	});
}
interaction(702, 335.5, [-0.05, 1.043], [0.1497, 0.7275], [0, 0.25, 0.5, 0.75, 1], [0.2, 0.3, 0.4, 0.5, 0.6, 0.7], function(v) { return v.toFixed(2); }, highOutgoing, highIncoming, highCounts, highLabelOffset, 'High FADD strength');
interaction(1147.3, 329.7, [-0.047, 1.864], [0.342, 1.535], [0, 0.5, 1, 1.5], [0.6, 0.9, 1.2, 1.5], function(v) { return v.toFixed(1); }, lowOutgoing, lowIncoming, lowCounts, lowLabelOffset, 'Low FADD strength');
label('D', 668, 750, 'bold 27px ' + SANS);
label('High FADD', 871.7, 797, 'bold 26px ' + SANS, '#c1151f');
label('Low FADD', 1320, 797, 'bold 26px ' + SANS, '#1470b8');
label('Outgoing interaction strength', 870, 1151, '12.6px ' + SANS, '#222');
label('Outgoing interaction strength', 1312, 1151, '12.6px ' + SANS, '#222');
label('Incoming interaction strength', 671.7, 969, '12.3px ' + SANS, '#222', 'center', Math.PI / 2);
label('Incoming interaction strength', 1117, 969, '12.3px ' + SANS, '#222', 'center', Math.PI / 2);
label('Count', 1075, 933.7, '12.7px ' + SANS, '#222');
// size key
var keyPanel = addPanel(1060, 943.5, 18, 104, { type: 'value', min: -1, max: 1, show: false }, {
	type: 'category', inverse: true, position: 'right', data: countLevels.map(String),
	axisLine: { show: false }, axisTick: { show: false }, axisLabel: { margin: 6, fontFamily: SANS, fontSize: 10.5, color: '#222', interval: 0 }
});
series.push({
	type: 'scatter', name: 'Count key', xAxisIndex: keyPanel, yAxisIndex: keyPanel, silent: true, itemStyle: { color: '#000', opacity: 1 },
	symbolSize: function(v) { return countSize(countLevels[v[1]]); },
	data: countLevels.map(function(c, i) { return [0, i]; })
});

// ---------- E
var heatIdx = [];
function signaling(title, cx, left, barLeft, barW, rows, showRows, cols, colors, matrix, top, topMax, topTicks, side, sideMax, sideTicks, tag) {
	var rowTop = 1325.7, rowH = 239.3, w = 300.5;
	// main heat map
	var hm = addPanel(left, rowTop, w, rowH, { type: 'category', data: cols, show: false }, {
		type: 'category', data: rows, inverse: true, axisLine: { show: false }, axisTick: { show: false },
		axisLabel: { show: showRows, interval: 0, margin: 3, fontFamily: SANS, fontSize: 8.5, color: '#222' }
	});
	var cells = [];
	matrix.forEach(function(row, r) { row.forEach(function(v, c) { cells.push([c, r, v]); }); });
	heatIdx.push(series.length);
	series.push({ type: 'heatmap', name: tag, xAxisIndex: hm, yAxisIndex: hm, silent: true, progressive: 0, data: cells });
	// top bars
	var tf = { family: SANS, size: 7.8 };
	var ty = numAxis(0, topMax, topTicks, '#222', tf, String);
	var tp = addPanel(left, 1293.3, w, 29.4, { type: 'category', data: cols, show: false }, ty);
	series.push({
		type: 'bar', name: tag + ' total', xAxisIndex: tp, yAxisIndex: tp, barWidth: '65%', silent: true,
		data: top.map(function(v, i) { return { value: v, itemStyle: { color: colors[i] } }; })
	});
	// side bars
	var sx = numAxis(0, sideMax, sideTicks, '#222', { family: SANS, size: 8 }, String);
	sx.axisLabel.rotate = 90; sx.axisLabel.margin = 3; sx.axisLine.lineStyle.width = 1;
	var sp = addPanel(barLeft, rowTop, barW, rowH, sx, { type: 'category', data: rows, inverse: true, show: false });
	series.push({
		type: 'bar', name: tag + ' side', xAxisIndex: sp, yAxisIndex: sp, barWidth: '68%', silent: true,
		itemStyle: { color: '#7f7f7f', borderColor: '#111', borderWidth: 1 }, data: side
	});
	// colour strip with the names
	var st = addPanel(left, 1568, w, 6.3, {
		type: 'category', data: cols, axisLine: { show: false }, axisTick: { show: false },
		axisLabel: { interval: 0, rotate: 90, margin: 3, fontFamily: SANS, fontSize: 8.7, color: '#222' }
	}, { type: 'value', min: 0, max: 1, show: false });
	series.push({
		type: 'bar', name: tag + ' strip', xAxisIndex: st, yAxisIndex: st, barWidth: '100%', silent: true,
		data: colors.map(function(c) { return { value: 1, itemStyle: { color: c } }; })
	});
	label(title, cx, 1281.3, '10.7px ' + SANS, '#222');
}
signaling('Outgoing signaling patterns', 212.6, 62.6, 365.2, 30, highOutRows, true, highCols, highColColors, highOutMatrix, highOutTop, 1, [0, 0.5, 1], highOutSide, 2.7, [0, 1, 2], 'High out');
signaling('Incoming signaling patterns', 552, 402, 705, 30, highOutRows, false, highCols, highColColors, highInMatrix, highInTop, 0.72, [0, 0.2, 0.4, 0.6], highInSide, 3, [0, 1, 2], 'High in');
signaling('Outgoing signaling patterns', 1019, 869.5, 1172.5, 30, lowRows, true, lowCols, lowColColors, lowOutMatrix, lowOutTop, 1.8, [0, 0.5, 1, 1.5], lowOutSide, 12.4, [0, 2, 4, 6, 8, 10], 'Low out');
signaling('Incoming signaling patterns', 1358.5, 1208.5, 1512, 30, lowRows, false, lowCols, lowColColors, lowInMatrix, lowInTop, 1.5, [0, 0.5, 1, 1.5], lowInSide, 12.4, [0, 2, 4, 6, 8, 10], 'Low in');
colorBar(752.5, 1415, 7, 61.7, 0, 1, [0, 1], strengthRamp, { name: 'Strength scale left', tick: 0, margin: 3, size: 9.5 });
colorBar(1560.5, 1415, 7, 61.7, 0, 1, [0, 1], strengthRamp, { name: 'Strength scale right', tick: 0, margin: 2, size: 9.5 });
label('E', 20, 1214, 'bold 27px ' + SANS);
label('High FADD', 360, 1247, 'bold 26px ' + SANS, '#c1151f');
label('Low FADD', 1174, 1247, 'bold 26px ' + SANS, '#1470b8');
label('Relative strength', 743, 1446, '9.5px ' + SANS, '#333', 'center', Math.PI / 2);
label('Relative strength', 1551, 1446, '9.5px ' + SANS, '#333', 'center', Math.PI / 2);

echarts.init(document.getElementById('main')).setOption({
	animation: false,
	backgroundColor: '#fff',
	textStyle: { fontFamily: SANS },
	grid: grids,
	xAxis: xAxes,
	yAxis: yAxes,
	legend: [{
		data: legendCells, orient: 'vertical', left: 738, top: 244, selectedMode: false, icon: 'circle',
		itemWidth: 26, itemHeight: 14, itemGap: 12.7, padding: [24, 8, 16, 15], borderColor: '#000', borderWidth: 2,
		textStyle: { fontFamily: SANS, fontSize: 14.5, color: '#222', padding: [0, 0, 0, 5] }
	}, {
		data: ['High', 'Low'], orient: 'vertical', left: 541, top: 912, selectedMode: false, icon: 'rect',
		itemWidth: 23, itemHeight: 23, itemGap: 2, padding: 0,
		textStyle: { fontFamily: SANS, fontSize: 17, fontWeight: 'bold', color: '#222', padding: [0, 0, 0, 7] }
	}],
	visualMap: [{ show: false, type: 'continuous', min: 0, max: 1, dimension: 2, seriesIndex: heatIdx, inRange: { color: strengthRamp } }],
	series: series,
	graphic: { elements: texts }
});
</script>
</body>
</html>
